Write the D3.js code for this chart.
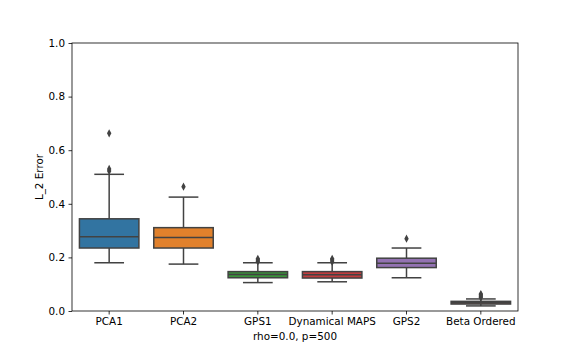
<!DOCTYPE html>
<html><head><meta charset="utf-8">
<script src="https://cdn.jsdelivr.net/npm/d3@7"></script>
<style>body{margin:0;background:#fff;} text{font-family:"DejaVu Sans",sans-serif;}</style>
</head><body><svg id="c" width="576" height="355"></svg>
<script>
const categories = ["PCA1","PCA2","GPS1","Dynamical MAPS","GPS2","Beta Ordered"];
const colors = ["#3274a1","#e1812c","#3a923a","#c03d3e","#9372b2","#845b53"];
const q1 = [0.235, 0.235, 0.124, 0.123, 0.162, 0.026];
const median = [0.277, 0.274, 0.136, 0.135, 0.178, 0.031];
const q3 = [0.344, 0.311, 0.147, 0.147, 0.197, 0.036];
const whiskerLow = [0.180, 0.175, 0.106, 0.109, 0.124, 0.019];
const whiskerHigh = [0.510, 0.425, 0.180, 0.180, 0.235, 0.045];
const outliers = [[0.522, 0.530, 0.663],[0.464],[0.185, 0.190, 0.195],[0.183, 0.190, 0.195],[0.270],[0.050, 0.055, 0.060, 0.063]];
const yTicks = [0.0, 0.2, 0.4, 0.6, 0.8, 1.0];

const svg = d3.select("#c");
const L=72, R=518, T=43, B=311;
const x = d3.scaleBand().domain(categories).range([L,R]).paddingInner(0).paddingOuter(0);
const y = d3.scaleLinear().domain([0,1]).range([B,T]);
const bw = x.bandwidth()*0.8;
const edge = "#424242";
const fs = 10.4;

const g = svg.append("g");
categories.forEach((c,i)=>{
  const cx = x(c)+x.bandwidth()/2;
  const grp = g.append("g");
  grp.append("line").attr("x1",cx).attr("x2",cx).attr("y1",y(whiskerLow[i])).attr("y2",y(q1[i])).attr("stroke",edge).attr("stroke-width",1.5);
  grp.append("line").attr("x1",cx).attr("x2",cx).attr("y1",y(q3[i])).attr("y2",y(whiskerHigh[i])).attr("stroke",edge).attr("stroke-width",1.5);
  [whiskerLow[i], whiskerHigh[i]].forEach(v=>{
    grp.append("line").attr("x1",cx-bw/4).attr("x2",cx+bw/4).attr("y1",y(v)).attr("y2",y(v)).attr("stroke",edge).attr("stroke-width",1.5);
  });
  grp.append("rect").attr("x",cx-bw/2).attr("width",bw).attr("y",y(q3[i])).attr("height",y(q1[i])-y(q3[i]))
    .attr("fill",colors[i]).attr("stroke",edge).attr("stroke-width",1.5);
  grp.append("line").attr("x1",cx-bw/2).attr("x2",cx+bw/2).attr("y1",y(median[i])).attr("y2",y(median[i])).attr("stroke",edge).attr("stroke-width",1.5);
  outliers[i].forEach(v=>{
    grp.append("path").attr("d",d3.symbol().type(d3.symbolDiamond2).size(22)()).attr("transform",`translate(${cx},${y(v)}) scale(0.75,1.4)`).attr("fill",edge);
  });
});

// axes
const ya = svg.append("g").attr("transform",`translate(${L},0)`).call(d3.axisLeft(y).tickValues(yTicks).tickFormat(d3.format(".1f")).tickSize(3.5).tickPadding(3.5));
const xa = svg.append("g").attr("transform",`translate(0,${B})`).call(d3.axisBottom(x).tickSize(3.5).tickPadding(3.5));
[ya,xa].forEach(a=>{
  a.select(".domain").remove();
  a.selectAll("text").attr("font-size",fs).attr("fill","#000").attr("font-family","DejaVu Sans");
  a.selectAll("line").attr("stroke","#000").attr("stroke-width",0.8);
});
svg.append("rect").attr("x",L).attr("y",T).attr("width",R-L).attr("height",B-T).attr("fill","none").attr("stroke","#000").attr("stroke-width",0.8);

svg.append("text").attr("x",(L+R)/2).attr("y",340).attr("text-anchor","middle").attr("font-size",fs).text("rho=0.0, p=500");
svg.append("text").attr("transform",`translate(42.5,${(T+B)/2}) rotate(-90)`).attr("text-anchor","middle").attr("font-size",fs).text("L_2 Error");
</script></body></html>
